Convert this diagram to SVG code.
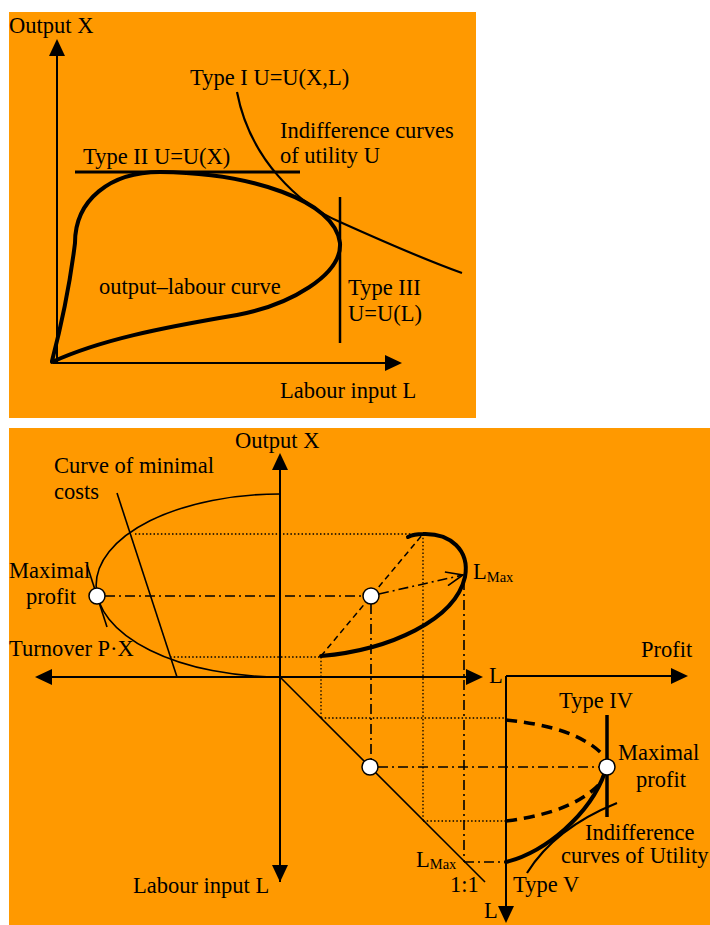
<svg xmlns="http://www.w3.org/2000/svg" width="710" height="925" viewBox="0 0 710 925">
<style>
text{font-family:"Liberation Serif","Times New Roman",serif;font-size:22.5px;fill:#000}
.sub{font-size:14.5px}
.ax{stroke:#000;stroke-width:2;fill:none}
.thin{stroke:#000;stroke-width:1.6;fill:none}
.med{stroke:#000;stroke-width:2.2;fill:none}
.thick{stroke:#000;stroke-width:4;fill:none;stroke-linecap:round}
.dot{stroke:#000;stroke-width:1.3;fill:none;stroke-dasharray:1.5 2.2}
.dd{stroke:#000;stroke-width:1.6;fill:none;stroke-dasharray:10 4 2 4}
.dash{stroke:#000;stroke-width:1.5;fill:none;stroke-dasharray:6 4}
.tdash{stroke:#000;stroke-width:3.5;fill:none;stroke-dasharray:11 7}
.pt{fill:#fff;stroke:#000;stroke-width:1.5}
</style>
<defs>
<marker id="ah" markerUnits="userSpaceOnUse" markerWidth="18" markerHeight="16" refX="13" refY="8" orient="auto">
<path d="M0,0 L17,8 L0,16 z" fill="#000"/>
</marker>
<marker id="oh" markerUnits="userSpaceOnUse" markerWidth="20" markerHeight="16" refX="18" refY="8" orient="auto">
<path d="M1,1 L18,8 L1,15" fill="none" stroke="#000" stroke-width="1.6"/>
</marker>
</defs>

<g id="panel-top">
<rect x="9" y="12" width="467" height="406" fill="#FF9900"/>
<g id="axes-top">
<line class="ax" x1="57" y1="363" x2="57" y2="43" marker-end="url(#ah)"/>
<line class="ax" x1="53" y1="363" x2="398" y2="363" marker-end="url(#ah)"/>
<text x="9" y="33">Output X</text>
<text x="280" y="398">Labour input L</text>
</g>
<g id="output-labour-curve">
<path class="thick" d="M52,361 Q68,300 75,243 C75,200 110,172 160,172 C250,173 335,200 340,243 C342,275 290,305 237,315 C160,328 100,340 52,362"/>
<text x="99" y="294">output–labour curve</text>
</g>
<g id="type1">
<path class="med" d="M237,92 C250,160 300,205 340,222 C380,240 420,258 462,273"/>
<text x="190" y="85">Type I U=U(X,L)</text>
<text x="280" y="138">Indifference curves</text>
<text x="280" y="163">of utility U</text>
</g>
<g id="type2">
<line x1="75" y1="172" x2="300" y2="172" stroke="#000" stroke-width="3"/>
<text x="83" y="164">Type II U=U(X)</text>
</g>
<g id="type3">
<line x1="340" y1="197" x2="340" y2="343" stroke="#000" stroke-width="2.5"/>
<text x="348" y="295">Type III</text>
<text x="348" y="321">U=U(L)</text>
</g>
</g>

<g id="panel-bottom">
<rect x="9" y="428" width="701" height="497" fill="#FF9900"/>
<g id="connectors">
<line class="dot" x1="135" y1="534" x2="423" y2="534"/>
<line class="dot" x1="170" y1="657" x2="321" y2="657"/>
<line class="dot" x1="321" y1="657" x2="321" y2="718"/>
<line class="dot" x1="321" y1="718" x2="506" y2="718"/>
<line class="dot" x1="423" y1="534" x2="423" y2="821"/>
<line class="dot" x1="423" y1="821" x2="506" y2="821"/>
<line class="dd" x1="105" y1="596" x2="363" y2="596"/>
<line class="dd" x1="371" y1="604" x2="371" y2="759"/>
<line class="dd" x1="464" y1="580" x2="464" y2="862"/>
<line class="dd" x1="464" y1="862" x2="506" y2="862"/>
<line class="dd" x1="378" y1="767" x2="599" y2="767"/>
<line class="dash" x1="321" y1="656" x2="423" y2="534"/>
<line class="dd" x1="379" y1="594" x2="463" y2="575" marker-end="url(#oh)"/>
<line class="thin" x1="280" y1="677" x2="485" y2="882"/>
</g>
<g id="axes-bottom">
<line class="ax" x1="280" y1="882" x2="280" y2="457" marker-end="url(#ah)"/>
<line class="ax" x1="280" y1="677" x2="280" y2="878" marker-end="url(#ah)"/>
<line class="ax" x1="280" y1="677" x2="39" y2="677" marker-end="url(#ah)"/>
<line class="ax" x1="280" y1="677" x2="479" y2="677" marker-end="url(#ah)"/>
<line class="ax" x1="506" y1="676" x2="684" y2="676" marker-end="url(#ah)"/>
<line class="ax" x1="506" y1="676" x2="506" y2="919" marker-end="url(#ah)"/>
<text x="235" y="448">Output X</text>
<text x="9" y="656">Turnover P·X</text>
<text x="133" y="893">Labour input L</text>
<text x="489" y="683">L</text>
<text x="641" y="657">Profit</text>
<text x="484" y="918">L</text>
<text x="450" y="892">1:1</text>
</g>
<g id="turnover-curve">
<path class="thin" d="M280,494 A184 91.5 0 0 0 280,677"/>
<line class="thin" x1="87" y1="565" x2="107" y2="627"/>
<circle class="pt" cx="97" cy="596" r="8"/>
<text x="9" y="578">Maximal</text>
<text x="26" y="604">profit</text>
</g>
<g id="min-cost">
<line class="thin" x1="117" y1="493" x2="177" y2="677"/>
<text x="54" y="473">Curve of minimal</text>
<text x="54" y="499">costs</text>
</g>
<g id="output-labour-rot">
<path class="thick" d="M321,656 C390,650 455,620 465,577 C470,550 450,533 423,534 C415,534 410,536 408,537"/>
<circle class="pt" cx="371" cy="596" r="8"/>
<text x="473" y="579">L<tspan class="sub" dy="3">Max</tspan></text>
</g>
<g id="diag-point">
<circle class="pt" cx="370" cy="767" r="8"/>
<text x="416" y="867">L<tspan class="sub" dy="2">Max</tspan></text>
</g>
<g id="profit-curves">
<path class="tdash" d="M506,720 Q577,727 603,755"/>
<path class="tdash" d="M506,821 Q577,812 603,780"/>
<path class="thick" d="M506,862 C545,852 590,815 605,772"/>
<path class="med" d="M527,873 Q555,828 617,803"/>
<line x1="607" y1="715" x2="607" y2="817" stroke="#000" stroke-width="3.5"/>
<circle class="pt" cx="607" cy="767" r="8"/>
<text x="559" y="708">Type IV</text>
<text x="618" y="760">Maximal</text>
<text x="636" y="787">profit</text>
<text x="585" y="840">Indifference</text>
<text x="561" y="863" font-size="22">curves of Utility</text>
<text x="513" y="892">Type V</text>
</g>
</g>
</svg>
